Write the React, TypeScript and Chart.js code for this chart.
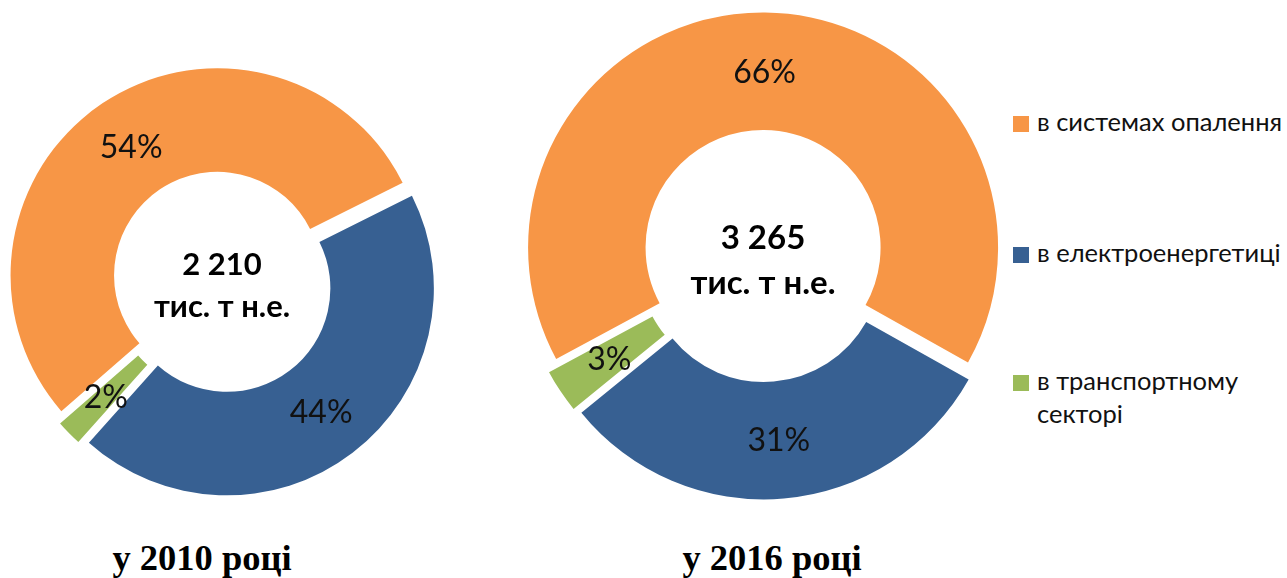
import React, { useEffect, useRef } from 'react';
import { Chart, registerables } from 'chart.js';

Chart.register(...registerables);

const categories = ['в системах опалення', 'в електроенергетиці', 'в транспортному секторі'];
const legendLines = [['в системах опалення'], ['в електроенергетиці'], ['в транспортному', 'секторі']];
const shares2010 = [54, 44, 2];
const shares2016 = [66, 31, 3];
const totals = ['2 210', '3 265'];
const unitLabel = 'тис. т н.е.';
const years = ['у 2010 році', 'у 2016 році'];
const colors = ['#F79646', '#376092', '#9BBB59'];

type DonutProps = {
  data: number[];
  total: string;
  size: number;
  left: number;
  top: number;
  radius: number;
  rotation: number;
  explode: number;
  centerFont: number;
  lineGap: number;
};

function Donut(p: DonutProps) {
  const ref = useRef<HTMLCanvasElement | null>(null);
  useEffect(() => {
    if (!ref.current) return;
    const explodePlugin = {
      id: 'explode',
      beforeDatasetDraw(chart: any, args: any) {
        const ctx = chart.ctx;
        args.meta.data.forEach((el: any) => {
          const mid = (el.startAngle + el.endAngle) / 2;
          ctx.save();
          ctx.translate(Math.cos(mid) * p.explode, Math.sin(mid) * p.explode);
          el.draw(ctx);
          ctx.restore();
        });
        return false;
      },
    };
    const labelPlugin = {
      id: 'labels',
      afterDatasetsDraw(chart: any) {
        const ctx = chart.ctx;
        const meta = chart.getDatasetMeta(0);
        ctx.save();
        ctx.fillStyle = '#111';
        ctx.font = '32px Lato';
        ctx.textAlign = 'center';
        ctx.textBaseline = 'middle';
        let cx = 0, cy = 0;
        meta.data.forEach((el: any, i: number) => {
          const { x, y, startAngle, endAngle, innerRadius, outerRadius } = el.getProps(
            ['x', 'y', 'startAngle', 'endAngle', 'innerRadius', 'outerRadius'],
            true
          );
          cx = x; cy = y;
          const mid = (startAngle + endAngle) / 2;
          const r = (innerRadius + outerRadius) / 2 + p.explode;
          ctx.fillText(chart.data.datasets[0].data[i] + '%', x + Math.cos(mid) * r, y + Math.sin(mid) * r + 1);
        });
        ctx.fillStyle = '#000';
        ctx.font = `bold ${p.centerFont}px Lato`;
        ctx.textBaseline = 'alphabetic';
        ctx.fillText(p.total, cx, cy - 7);
        ctx.fillText(unitLabel, cx, cy - 7 + p.lineGap);
        ctx.restore();
      },
    };
    const chart = new Chart(ref.current, {
      type: 'doughnut',
      data: {
        labels: categories,
        datasets: [
          {
            data: p.data,
            backgroundColor: colors,
            borderWidth: 0,
            offset: 0,
            hoverOffset: 0,
            radius: p.radius,
            cutout: '50%',
            rotation: p.rotation,
          } as any,
        ],
      },
      options: {
        responsive: false,
        maintainAspectRatio: false,
        animation: false,
        layout: { padding: 0 },
        plugins: { legend: { display: false }, tooltip: { enabled: false } },
      } as any,
      plugins: [explodePlugin, labelPlugin],
    });
    return () => chart.destroy();
  }, []);
  return (
    <canvas
      ref={ref}
      width={p.size}
      height={p.size}
      style={{ position: 'absolute', left: p.left, top: p.top, width: p.size, height: p.size }}
    />
  );
}

export default function App() {
  const legendTops = [116, 247, 375];
  return (
    <div style={{ position: 'absolute', left: 0, top: 0, width: 1287, height: 578, background: '#fff', overflow: 'hidden' }}>
      <Donut data={shares2010} total={totals[0]} size={440} left={2} top={62} radius={207} rotation={229} explode={8} centerFont={31} lineGap={42} />
      <Donut data={shares2016} total={totals[1]} size={500} left={513} top={6} radius={235} rotation={241.7} explode={8.5} centerFont={33} lineGap={45} />
      {legendLines.map((lines, i) => (
        <div key={i}>
          <div style={{ position: 'absolute', left: 1013, top: legendTops[i], width: 16, height: 16, background: colors[i] }} />
          <div
            style={{
              position: 'absolute',
              left: 1037,
              top: legendTops[i] - 11,
              fontFamily: 'Lato',
              fontSize: 25.5,
              lineHeight: '33px',
              color: '#111',
              whiteSpace: 'nowrap',
            }}
          >
            {lines.map((l, j) => (
              <div key={j}>{l}</div>
            ))}
          </div>
        </div>
      ))}
      {years.map((y, i) => (
        <div
          key={i}
          style={{
            position: 'absolute',
            left: i === 0 ? 202 - 150 : 772 - 150,
            width: 300,
            top: 538,
            textAlign: 'center',
            fontFamily: '"Liberation Serif", "Times New Roman", serif',
            fontWeight: 'bold',
            fontSize: 36.5,
            lineHeight: '40px',
            color: '#000',
            whiteSpace: 'nowrap',
          }}
        >
          {y}
        </div>
      ))}
    </div>
  );
}
